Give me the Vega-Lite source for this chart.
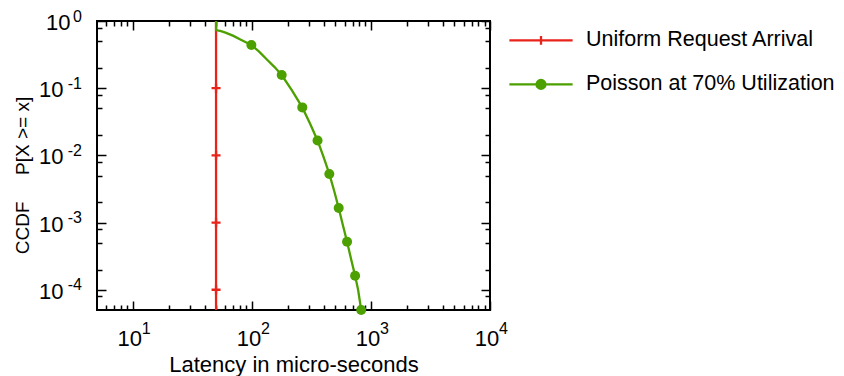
{
  "$schema": "https://vega.github.io/schema/vega-lite/v6.json",
  "width": 393,
  "height": 289,
  "autosize": "none",
  "padding": {"left": 97, "top": 21, "right": 354, "bottom": 66},
  "background": "white",
  "config": {
    "font": "Liberation Sans",
    "view": {"stroke": "black", "strokeWidth": 2},
    "axis": {
      "domain": false,
      "grid": false,
      "labelFont": "Liberation Sans",
      "titleFont": "Liberation Sans",
      "labelColor": "black",
      "titleColor": "black",
      "tickColor": "black",
      "tickWidth": 1.5,
      "labelFlush": false,
      "labelBound": false,
      "labelOverlap": false,
      "labelLimit": 0,
      "titleFontWeight": "normal"
    },
    "legend": {"labelFont": "Liberation Sans", "labelColor": "black"}
  },
  "datasets": {
    "curves": [
      {"series": "Uniform Request Arrival", "latency": 50, "ccdf": 0.00005},
      {"series": "Uniform Request Arrival", "latency": 50, "ccdf": 1},
      {"series": "Poisson at 70% Utilization", "latency": 50, "ccdf": 1},
      {"series": "Poisson at 70% Utilization", "latency": 50, "ccdf": 0.73},
      {"series": "Poisson at 70% Utilization", "latency": 55, "ccdf": 0.705},
      {"series": "Poisson at 70% Utilization", "latency": 60, "ccdf": 0.67},
      {"series": "Poisson at 70% Utilization", "latency": 70, "ccdf": 0.6},
      {"series": "Poisson at 70% Utilization", "latency": 80, "ccdf": 0.53},
      {"series": "Poisson at 70% Utilization", "latency": 99, "ccdf": 0.44},
      {"series": "Poisson at 70% Utilization", "latency": 115, "ccdf": 0.35},
      {"series": "Poisson at 70% Utilization", "latency": 133, "ccdf": 0.27},
      {"series": "Poisson at 70% Utilization", "latency": 155, "ccdf": 0.206},
      {"series": "Poisson at 70% Utilization", "latency": 178, "ccdf": 0.157},
      {"series": "Poisson at 70% Utilization", "latency": 217, "ccdf": 0.093},
      {"series": "Poisson at 70% Utilization", "latency": 265, "ccdf": 0.0518},
      {"series": "Poisson at 70% Utilization", "latency": 307, "ccdf": 0.03},
      {"series": "Poisson at 70% Utilization", "latency": 356, "ccdf": 0.0167},
      {"series": "Poisson at 70% Utilization", "latency": 399, "ccdf": 0.0096},
      {"series": "Poisson at 70% Utilization", "latency": 447, "ccdf": 0.0053},
      {"series": "Poisson at 70% Utilization", "latency": 490, "ccdf": 0.003},
      {"series": "Poisson at 70% Utilization", "latency": 536, "ccdf": 0.00165},
      {"series": "Poisson at 70% Utilization", "latency": 580, "ccdf": 0.00093},
      {"series": "Poisson at 70% Utilization", "latency": 630, "ccdf": 0.00052},
      {"series": "Poisson at 70% Utilization", "latency": 680, "ccdf": 0.00029},
      {"series": "Poisson at 70% Utilization", "latency": 736, "ccdf": 0.000162},
      {"series": "Poisson at 70% Utilization", "latency": 780, "ccdf": 0.0001},
      {"series": "Poisson at 70% Utilization", "latency": 828, "ccdf": 0.00005}
    ],
    "markers": [
      {"series": "Uniform Request Arrival", "latency": 50, "ccdf": 0.1},
      {"series": "Uniform Request Arrival", "latency": 50, "ccdf": 0.01},
      {"series": "Uniform Request Arrival", "latency": 50, "ccdf": 0.001},
      {"series": "Uniform Request Arrival", "latency": 50, "ccdf": 0.0001},
      {"series": "Poisson at 70% Utilization", "latency": 99, "ccdf": 0.44},
      {"series": "Poisson at 70% Utilization", "latency": 178, "ccdf": 0.157},
      {"series": "Poisson at 70% Utilization", "latency": 265, "ccdf": 0.0518},
      {"series": "Poisson at 70% Utilization", "latency": 356, "ccdf": 0.0167},
      {"series": "Poisson at 70% Utilization", "latency": 447, "ccdf": 0.0053},
      {"series": "Poisson at 70% Utilization", "latency": 536, "ccdf": 0.00165},
      {"series": "Poisson at 70% Utilization", "latency": 630, "ccdf": 0.00052},
      {"series": "Poisson at 70% Utilization", "latency": 736, "ccdf": 0.000162},
      {"series": "Poisson at 70% Utilization", "latency": 828, "ccdf": 0.00005}
    ]
  },
  "layer": [
    {
      "data": {"name": "curves"},
      "transform": [{"filter": "datum.series === 'Uniform Request Arrival'"}],
      "mark": {"type": "line", "strokeWidth": 2.3, "clip": true},
      "encoding": {
        "x": {
          "field": "latency", "type": "quantitative",
          "scale": {"type": "log", "domain": [5, 10000], "nice": false},
          "axis": {
            "orient": "bottom",
            "values": [6, 7, 8, 9, 10, 20, 30, 40, 50, 60, 70, 80, 90, 100, 200, 300, 400, 500, 600, 700, 800, 900, 1000, 2000, 3000, 4000, 5000, 6000, 7000, 8000, 9000, 10000],
            "tickSize": {"condition": {"test": "indexof([10, 100, 1000, 10000], datum.value) >= 0", "value": -9}, "value": -5},
            "labels": false,
            "title": null
          }
        },
        "y": {
          "field": "ccdf", "type": "quantitative",
          "scale": {"type": "log", "domain": [0.00005, 1], "nice": false},
          "axis": {
            "orient": "left",
            "values": [1, 0.8, 0.5, 0.2, 0.1, 0.08, 0.05, 0.02, 0.01, 0.008, 0.005, 0.002, 0.001, 0.0008, 0.0005, 0.0002, 0.0001, 0.00008],
            "tickSize": {"condition": {"test": "indexof([1, 0.1, 0.01, 0.001, 0.0001], datum.value) >= 0", "value": -9}, "value": -5},
            "labelExpr": "datum.value == 1 ? '10' : ''",
            "labelFontSize": 22,
            "labelAlign": "right",
            "labelBaseline": "middle",
            "labelOffset": 1.5,
            "labelPadding": 36,
            "title": null
          }
        },
        "color": {
          "field": "series", "type": "nominal",
          "scale": {"domain": ["Uniform Request Arrival", "Poisson at 70% Utilization"], "range": ["#e8231a", "#4ca000"]},
          "legend": {
            "orient": "none",
            "legendX": 411,
            "legendY": -13.6,
            "title": null,
            "padding": 0,
            "labelFontSize": 21.5,
            "labelOffset": 12,
            "labelLimit": 0,
            "rowPadding": -7,
            "symbolSize": 4000,
            "encode": {
              "symbols": {
                "update": {
                  "shape": {"signal": "datum.value === 'Uniform Request Arrival' ? 'M-1,0H1M0,-0.14V0.14' : 'M-1,0H1M-0.14,0A0.14,0.14,0,1,1,0.14,0A0.14,0.14,0,1,1,-0.14,0Z'"},
                  "stroke": {"scale": "color", "field": "value"},
                  "fill": {"scale": "color", "field": "value"},
                  "fillOpacity": {"value": 1},
                  "strokeWidth": {"value": 2.3},
                  "size": {"value": 4000}
                }
              }
            }
          }
        }
      }
    },
    {
      "data": {"name": "curves"},
      "transform": [{"filter": "datum.series === 'Poisson at 70% Utilization'"}],
      "mark": {"type": "line", "strokeWidth": 2.3, "clip": true},
      "encoding": {
        "x": {
          "field": "latency", "type": "quantitative",
          "axis": {
            "orient": "top",
            "values": [6, 7, 8, 9, 10, 20, 30, 40, 50, 60, 70, 80, 90, 100, 200, 300, 400, 500, 600, 700, 800, 900, 1000, 2000, 3000, 4000, 5000, 6000, 7000, 8000, 9000, 10000],
            "tickSize": {"condition": {"test": "indexof([10, 100, 1000, 10000], datum.value) >= 0", "value": -9}, "value": -5},
            "labels": false,
            "title": null
          }
        },
        "y": {
          "field": "ccdf", "type": "quantitative",
          "axis": {
            "orient": "right",
            "values": [1, 0.8, 0.5, 0.2, 0.1, 0.08, 0.05, 0.02, 0.01, 0.008, 0.005, 0.002, 0.001, 0.0008, 0.0005, 0.0002, 0.0001, 0.00008],
            "tickSize": {"condition": {"test": "indexof([1, 0.1, 0.01, 0.001, 0.0001], datum.value) >= 0", "value": -9}, "value": -5},
            "labels": false,
            "title": null
          }
        },
        "color": {"field": "series", "type": "nominal"}
      }
    },
    {
      "data": {"name": "markers"},
      "transform": [{"filter": "datum.series === 'Uniform Request Arrival'"}],
      "mark": {"type": "point", "shape": "M-1,0H1M0,-1V1", "filled": false, "size": 81, "strokeWidth": 2.3, "opacity": 1},
      "encoding": {
        "x": {
          "field": "latency", "type": "quantitative",
          "axis": {
            "orient": "bottom",
            "values": [10, 100, 1000, 10000],
            "ticks": false,
            "labelExpr": "'10'",
            "labelFontSize": 22,
            "labelAlign": "center",
            "labelBaseline": "alphabetic",
            "labelOffset": -3.5,
            "labelPadding": 35,
            "title": "Latency in micro-seconds",
            "titleFontSize": 22,
            "titleBaseline": "alphabetic",
            "titleX": 196.5,
            "titleY": 61
          }
        },
        "y": {
          "field": "ccdf", "type": "quantitative",
          "axis": {
            "orient": "left",
            "values": [0.1, 0.01, 0.001, 0.0001],
            "ticks": false,
            "labelExpr": "'10'",
            "labelFontSize": 22,
            "labelAlign": "right",
            "labelBaseline": "middle",
            "labelOffset": 1.5,
            "labelPadding": 34,
            "title": "CCDF\u00a0\u00a0\u00a0\u00a0\u00a0P[X >= x]",
            "titleFontSize": 19,
            "titleAngle": -90,
            "titleAlign": "center",
            "titleBaseline": "middle",
            "titleX": -74.5,
            "titleY": 154
          }
        },
        "color": {"field": "series", "type": "nominal"}
      }
    },
    {
      "data": {"name": "markers"},
      "transform": [{"filter": "datum.series === 'Poisson at 70% Utilization'"}],
      "mark": {"type": "point", "shape": "circle", "filled": true, "size": 100, "opacity": 1},
      "encoding": {
        "x": {
          "field": "latency", "type": "quantitative",
          "axis": {
            "orient": "bottom",
            "values": [10, 100, 1000, 10000],
            "ticks": false,
            "labelExpr": "'' + round(log(datum.value) / LN10)",
            "labelFontSize": 16,
            "labelAlign": "left",
            "labelBaseline": "alphabetic",
            "labelOffset": 8.5,
            "labelPadding": 23,
            "title": null
          }
        },
        "y": {
          "field": "ccdf", "type": "quantitative",
          "axis": {
            "orient": "left",
            "values": [1, 0.1, 0.01, 0.001, 0.0001],
            "ticks": false,
            "labelExpr": "'' + round(log(datum.value) / LN10)",
            "labelFontSize": 16,
            "labelAlign": "right",
            "labelBaseline": "middle",
            "labelOffset": -5,
            "labelPadding": 15.5,
            "title": null
          }
        },
        "color": {"field": "series", "type": "nominal"}
      }
    }
  ],
  "resolve": {"axis": {"x": "independent", "y": "independent"}}
}
